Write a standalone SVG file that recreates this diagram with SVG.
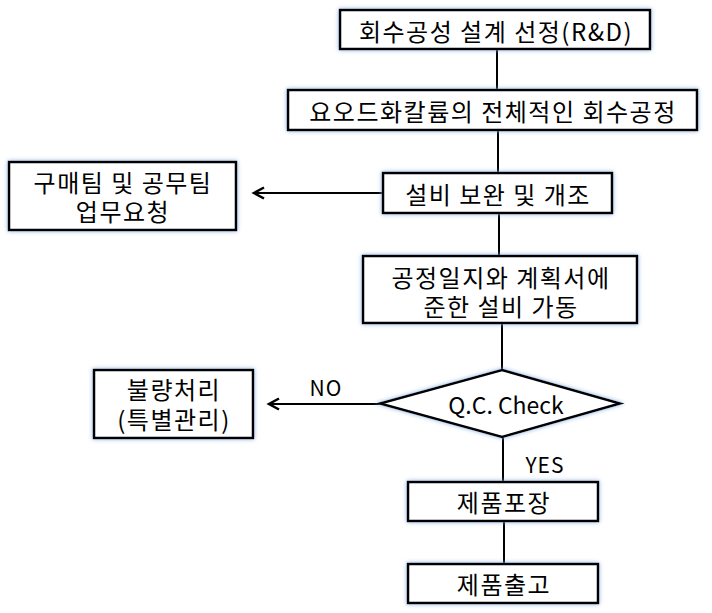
<svg xmlns="http://www.w3.org/2000/svg" width="712" height="613" viewBox="0 0 712 613">
<style>
.box{fill:#fff;stroke:#000;stroke-width:2.5;filter:url(#glow)}
.t{font-family:"Malgun Gothic","Noto Sans CJK KR",sans-serif;font-size:24px;letter-spacing:1.5px;fill:#000;text-anchor:middle;dominant-baseline:central}
.e{font-family:"Malgun Gothic","Noto Sans CJK KR",sans-serif;font-size:23px;fill:#000;text-anchor:middle;dominant-baseline:central}
.lbl{font-family:"Malgun Gothic","Noto Sans CJK KR",sans-serif;font-size:21px;letter-spacing:1px;fill:#000;text-anchor:middle}
.ln{stroke:#000;stroke-width:2;fill:none}
</style>
<defs>
<filter id="glow" x="-20%" y="-30%" width="140%" height="160%">
<feGaussianBlur in="SourceAlpha" stdDeviation="2.2" result="b"/>
<feFlood flood-color="#7fa6dc" flood-opacity="0.9"/>
<feComposite in2="b" operator="in" result="g"/>
<feMerge><feMergeNode in="g"/><feMergeNode in="SourceGraphic"/></feMerge>
</filter>
<marker id="arr" markerWidth="14" markerHeight="14" refX="11" refY="7" orient="auto" markerUnits="userSpaceOnUse">
<path d="M1,1.5 L11,7 L1,12.5" fill="none" stroke="#000" stroke-width="2.5"/>
</marker>
</defs>
<g id="connectors">
<line class="ln" x1="497" y1="50" x2="497" y2="90"/>
<line class="ln" x1="498" y1="130" x2="498" y2="173"/>
<line class="ln" x1="499" y1="213" x2="499" y2="256"/>
<line class="ln" x1="502" y1="323" x2="502" y2="370"/>
<line class="ln" x1="503" y1="437" x2="503" y2="482"/>
<line class="ln" x1="504" y1="521" x2="504" y2="564"/>
<line class="ln" x1="383" y1="193" x2="254" y2="193" marker-end="url(#arr)"/>
<line class="ln" x1="380" y1="404" x2="269" y2="404" marker-end="url(#arr)"/>
<text class="lbl" x="326" y="396">NO</text>
<text class="lbl" x="545" y="473">YES</text>
</g>
<g id="n1"><rect class="box" x="340" y="10" width="310" height="39"/><text class="t" x="496" y="30">회수공성 설계 선정(R&amp;D)</text></g>
<g id="n2"><rect class="box" x="288" y="90" width="409" height="40"/><text class="t" x="493" y="110">요오드화칼륨의 전체적인 회수공정</text></g>
<g id="n3"><rect class="box" x="383" y="173" width="229" height="40"/><text class="t" x="498" y="193">설비 보완 및 개조</text></g>
<g id="n4"><rect class="box" x="9" y="162" width="227" height="68"/><text class="t" x="123" y="181">구매팀 및 공무팀</text><text class="t" x="123" y="210">업무요청</text></g>
<g id="n5"><rect class="box" x="363" y="256" width="274" height="67"/><text class="t" x="501" y="276">공정일지와 계획서에</text><text class="t" x="501" y="305">준한 설비 가동</text></g>
<g id="n6"><polygon class="box" points="502,370 620,403.5 502,437 380,403.5"/><text class="e" x="506" y="404">Q.C. Check</text></g>
<g id="n7"><rect class="box" x="94" y="370" width="159" height="68"/><text class="t" x="174" y="388">불량처리</text><text class="t" x="174" y="418">(특별관리)</text></g>
<g id="n8"><rect class="box" x="408" y="482" width="190" height="39"/><text class="t" x="504" y="501.5">제품포장</text></g>
<g id="n9"><rect class="box" x="408" y="564" width="190" height="39"/><text class="t" x="504" y="583.5">제품출고</text></g>
</svg>
